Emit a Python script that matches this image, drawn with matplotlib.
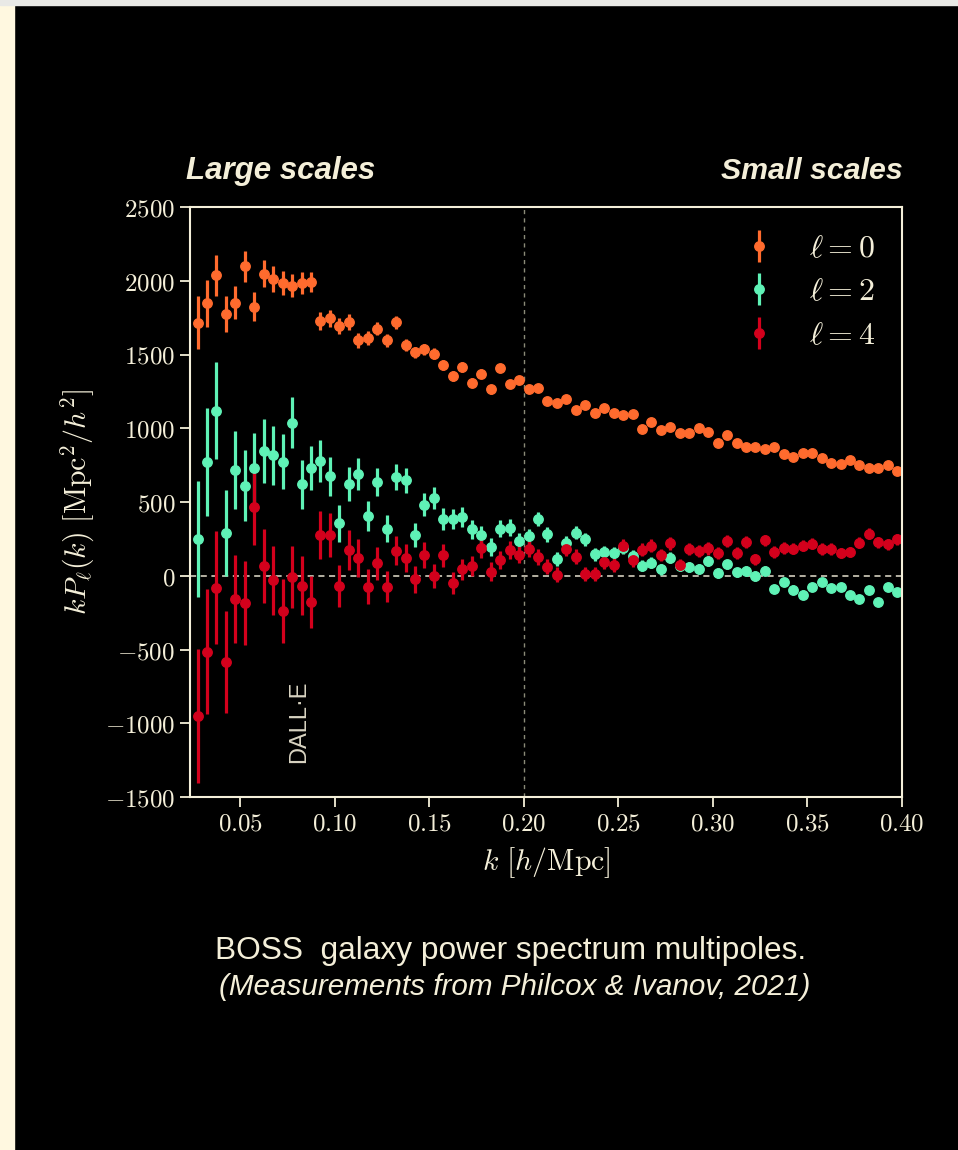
import numpy as np
import matplotlib
matplotlib.use("Agg")
import matplotlib.pyplot as plt
from matplotlib.patches import Rectangle
from matplotlib.ticker import FuncFormatter

plt.rcParams['mathtext.fontset'] = 'cm'
plt.rcParams['font.family'] = ['Liberation Sans', 'DejaVu Sans']

# BOSS galaxy power spectrum multipoles, k bins of width 0.005 h/Mpc
k = np.round(0.0275 + 0.005 * np.arange(75), 4)

# monopole l=0
p0 = [1716, 1847, 2037, 1775, 1851, 2098, 1824, 2048, 2014, 1985,
      1967, 1985, 1992, 1725, 1747, 1695, 1720, 1596, 1614, 1675,
      1598, 1718, 1562, 1515, 1537, 1505, 1429, 1354, 1415, 1309,
      1370, 1264, 1408, 1298, 1327, 1264, 1270, 1185, 1173, 1196,
      1122, 1160, 1101, 1139, 1103, 1092, 1099, 995, 1045, 986,
      1008, 968, 965, 1001, 977, 897, 952, 900, 875, 875,
      857, 875, 828, 807, 834, 834, 798, 767, 758, 783,
      751, 728, 728, 751, 712]
e0 = [180, 160, 140, 125, 113, 105, 100, 93, 87, 81,
      77, 73, 65, 62, 58, 55, 52, 50, 48, 46,
      44, 42, 40, 38, 37, 36, 35, 34, 33, 32,
      31, 30, 29, 28, 28, 27, 27, 26, 26, 25,
      25, 24, 24, 23, 23, 22, 22, 22, 21, 21,
      21, 20, 20, 20, 19, 19, 19, 18, 18, 18,
      18, 17, 17, 17, 17, 16, 16, 16, 16, 16,
      15, 15, 15, 15, 15]

# quadrupole l=2
p2 = [249, 769, 1119, 290, 715, 611, 731, 846, 816, 774,
      1038, 620, 733, 778, 676, 355, 621, 691, 405, 636,
      319, 669, 647, 274, 482, 529, 385, 385, 398, 315,
      274, 197, 319, 326, 235, 268, 384, 280, 115, 224,
      293, 247, 146, 163, 156, 190, 134, 68, 87, 43,
      123, 65, 61, 49, 101, 17, 78, 23, 32, -2,
      34, -90, -42, -94, -128, -76, -42, -85, -76, -130,
      -155, -99, -176, -74, -112]
e2 = [393, 367, 330, 290, 263, 243, 240, 215, 200, 186,
      173, 166, 150, 141, 132, 127, 115, 107, 100, 96,
      92, 88, 85, 82, 78, 75, 72, 70, 67, 65,
      62, 60, 58, 56, 54, 52, 50, 48, 47, 46,
      45, 44, 43, 42, 41, 40, 39, 38, 37, 36,
      35, 35, 34, 34, 33, 33, 32, 32, 31, 31,
      30, 30, 30, 29, 29, 28, 28, 28, 27, 27,
      27, 26, 26, 26, 25]

# hexadecapole l=4
p4 = [-951, -515, -81, -587, -158, -182, 464, 68, -31, -239,
      -6, -67, -176, 276, 276, -67, 172, 120, -74, 84,
      -74, 170, 123, -24, 141, 0, 138, -51, 44, 66,
      186, 28, 107, 175, 142, 182, 129, 61, 7, 181,
      129, 10, 10, 95, 71, 202, 107, 175, 204, 141,
      220, 71, 183, 169, 185, 152, 236, 156, 229, 111,
      240, 161, 188, 184, 204, 217, 181, 181, 154, 161,
      224, 285, 227, 213, 247]
e4 = [457, 424, 385, 345, 300, 285, 254, 252, 235, 215,
      210, 198, 175, 162, 150, 142, 135, 128, 120, 112,
      105, 100, 95, 90, 86, 82, 78, 75, 72, 69,
      66, 63, 61, 59, 57, 55, 53, 52, 51, 50,
      49, 48, 47, 47, 46, 45, 45, 44, 44, 43,
      43, 42, 42, 41, 41, 41, 40, 40, 40, 39,
      39, 39, 39, 38, 38, 38, 38, 38, 37, 37,
      37, 37, 37, 36, 36]

labels = [r'$\ell=0$', r'$\ell=2$', r'$\ell=4$']
colors = ['#ff6b2e', '#5ff2b6', '#d3001c']
cream = '#f4efd9'

fig = plt.figure(figsize=(9.58, 11.5), dpi=100, facecolor='black')
# light strips along the left and top edges
fig.patches.append(Rectangle((0, 0), 14/958, 1, transform=fig.transFigure,
                             color='#fff8e0', zorder=0))
fig.patches.append(Rectangle((0, 1 - 5/1150), 1, 5/1150, transform=fig.transFigure,
                             color='#e9e9e6', zorder=0))

ax = fig.add_axes([190/958, 1 - 797/1150, 712/958, 590/1150])
ax.set_facecolor('black')

for p, e, c, lab in zip([p0, p2, p4], [e0, e2, e4], colors, labels):
    ax.errorbar(k, p, yerr=e, fmt='o', color=c, ms=6.8, elinewidth=2.3,
                capsize=0, label=lab)

ax.axhline(0, color='#e6e1cf', lw=1.1, ls=(0, (4, 3)), zorder=0)
ax.axvline(0.2, color='#8a8a78', lw=1.0, ls=(0, (3, 3)), zorder=0)

ax.set_xlim(0.0235, 0.4)
ax.set_ylim(-1500, 2500)
ax.set_xticks([0.05, 0.10, 0.15, 0.20, 0.25, 0.30, 0.35, 0.40])
ax.set_yticks(range(-1500, 2501, 500))
ax.xaxis.set_major_formatter(FuncFormatter(lambda v, pos: f'${v:.2f}$'))
ax.yaxis.set_major_formatter(FuncFormatter(lambda v, pos: f'${int(v)}$'))
ax.tick_params(direction='out', length=7, width=1.3, color=cream,
               labelcolor=cream, labelsize=18)
for s in ax.spines.values():
    s.set_color(cream)
    s.set_linewidth(1.5)

ax.set_xlabel(r'$k\ [h/\mathrm{Mpc}]$', color=cream, fontsize=21.5, labelpad=7)
ax.set_ylabel(r'$kP_\ell(k)\ [\mathrm{Mpc}^2/h^2]$', color=cream, fontsize=21.5, labelpad=6)

leg = ax.legend(loc='upper right', frameon=False, fontsize=23, labelcolor=cream,
                handlelength=1.0, handletextpad=1.05, labelspacing=0.42,
                borderaxespad=0.45, bbox_to_anchor=(1.0, 1.0))

ax.text(0.081, -990, 'DALL·E', rotation=90, ha='center', va='center',
        color='#d9d4c2', fontsize=17)

fig.text(186/958, 1 - 171/1150, 'Large scales', ha='left', va='center',
         color=cream, fontsize=22.5, fontweight='bold', fontstyle='italic')
fig.text(903/958, 1 - 171/1150, 'Small scales', ha='right', va='center',
         color=cream, fontsize=21.8, fontweight='bold', fontstyle='italic')

fig.text(511/958, 1 - 951/1150, 'BOSS  galaxy power spectrum multipoles.',
         ha='center', va='center', color=cream, fontsize=22.8)
fig.text(515/958, 1 - 987/1150, '(Measurements from Philcox & Ivanov, 2021)',
         ha='center', va='center', color=cream, fontsize=21.3, fontstyle='italic')

fig.savefig('out.png', dpi=100, facecolor='black')
